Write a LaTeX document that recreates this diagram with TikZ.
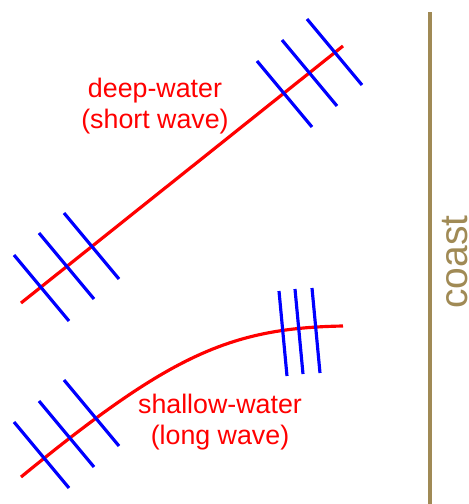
\documentclass[tikz,border=0pt]{standalone}
\usepackage{fontspec}
\setmainfont{Liberation Sans}
\usepackage{tikz}
\definecolor{coastbrown}{RGB}{160,138,85}
\definecolor{rayred}{RGB}{255,0,0}
\definecolor{crestblue}{RGB}{0,0,255}

\begin{document}
\begin{tikzpicture}[
      x=0.02cm, y=-0.02cm,
      ray/.style={draw=rayred, line width=1.8pt},
      crest/.style={draw=crestblue, line width=1.8pt},
      label/.style={text=rayred, align=center, font=\fontsize{15.25}{17.6}\selectfont},
  ]
    \useasboundingbox (0,0) rectangle (469,504);

    % coast
    \coordinate (coastTop) at (430,12);
    \coordinate (coastBot) at (430,504);
    \draw[coastbrown, line width=1.8pt] (coastTop) -- (coastBot);
    \node[rotate=90, anchor=base, text=coastbrown, inner sep=0pt,
          font=\fontsize{22.2}{26}\selectfont] (coast) at (467,262) {coast};

    % deep water ray
    \coordinate (deepA) at (21,303);
    \coordinate (deepB) at (343,46);
    \draw[ray] (deepA) -- (deepB);
    \foreach \x/\y in {14/255, 39/233, 64/213, 257/61, 282/40, 307/19}
      \draw[crest] (\x,\y) -- ++(55,66);
    \node[label] (deep) at (155,106) {deep-water\\(short wave)};

    % shallow water ray
    \coordinate (shallowA) at (21,477);
    \coordinate (shallowB) at (343,326);
    \draw[ray] (shallowA) .. controls (170,355) and (230,328) .. (shallowB);
    \foreach \x/\y in {14/422, 39/401, 64/380}
      \draw[crest] (\x,\y) -- ++(55,66);
    \foreach \x/\y in {279/291, 295/289, 312/288}
      \draw[crest] (\x,\y) -- ++(8,85);
    \node[label] (shallow) at (220,422) {shallow-water\\(long wave)};

  \end{tikzpicture}
\end{document}
